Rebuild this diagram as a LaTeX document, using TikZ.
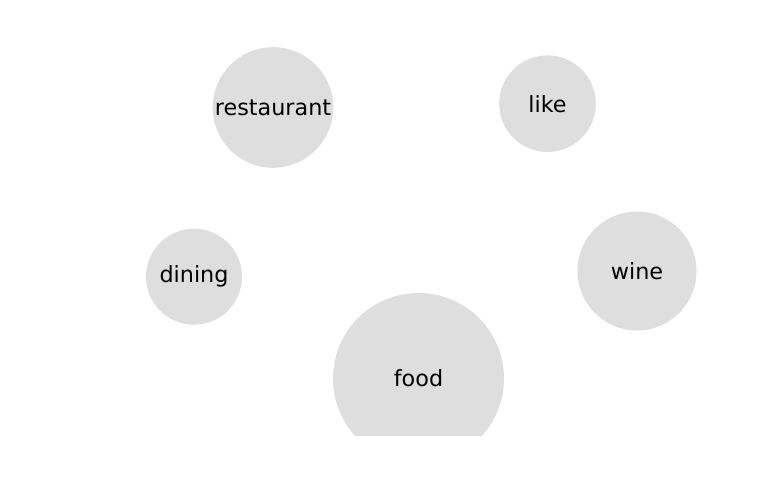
\documentclass[tikz,border=0pt]{standalone}
\usepackage{fontspec}
\setmainfont{DejaVu Sans}
\definecolor{bubble}{HTML}{DEDEDE}
\begin{document}
\begin{tikzpicture}[x=1pt, y=-1pt,
  word/.style = {circle, fill=bubble, inner sep=0pt, font=\fontsize{22.3}{27}\selectfont}]
		\useasboundingbox (0,0) rectangle (768,500);
		% Blasen
		\begin{scope}
		\clip (0,0) rectangle (768,435);
		\node[word, minimum size=120.6pt] (restaurant) at (273,107.5) {restaurant};
		\node[word, minimum size=96.6pt] (like) at (547.5,103.7) {like};
		\node[word, minimum size=96pt] (dining) at (194,276.7) {dining};
		\node[word, minimum size=119pt] (wine) at (637,271) {wine};
		\node[word, minimum size=171pt] (food) at (418.5,378.5) {food};
		\end{scope}
\end{tikzpicture}
\end{document}
